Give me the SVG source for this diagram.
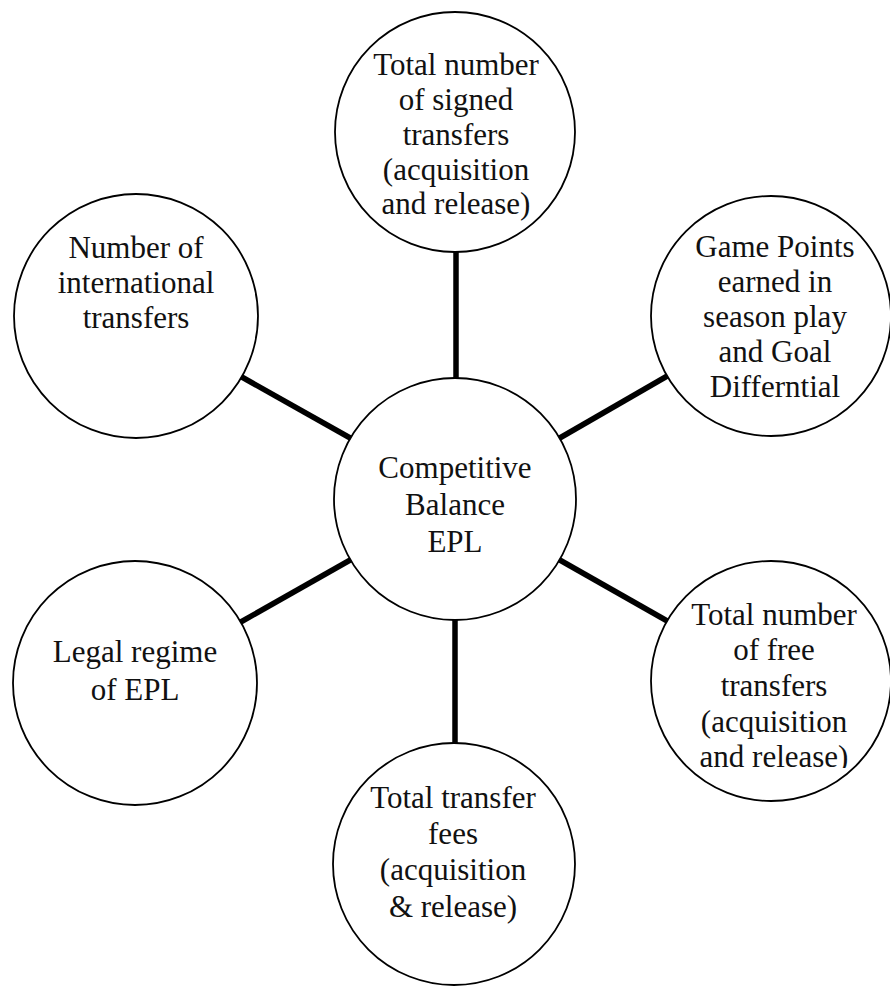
<svg xmlns="http://www.w3.org/2000/svg" width="890" height="987" viewBox="0 0 890 987">
<style>
.node circle{fill:#fff;stroke:#000;stroke-width:1.8}
.node text{font-family:"Liberation Serif","Times New Roman",serif;font-size:31px;fill:#111;text-anchor:middle}
.conn line{stroke:#000;stroke-width:5.5;stroke-linecap:butt}
</style>
<defs>
<clipPath id="clipLR"><rect x="640" y="740" width="250" height="28"/></clipPath>
</defs>
<rect width="890" height="987" fill="#fff"/>
<g id="connectors" class="conn">
<line x1="456" y1="250" x2="456" y2="380"/>
<line x1="240" y1="376" x2="352" y2="439"/>
<line x1="669" y1="375" x2="558" y2="439"/>
<line x1="239" y1="623" x2="352" y2="559"/>
<line x1="669" y1="622" x2="558" y2="559"/>
<line x1="455" y1="618" x2="455" y2="745"/>
</g>
<g id="node-top" class="node">
<circle cx="455" cy="132" r="120"/>
<text x="456" y="75">Total number</text>
<text x="456" y="110">of signed</text>
<text x="456" y="145">transfers</text>
<text x="456" y="180">(acquisition</text>
<text x="456" y="214">and release)</text>
</g>
<g id="node-upper-left" class="node">
<circle cx="136" cy="316" r="122"/>
<text x="136" y="258">Number of</text>
<text x="136" y="293">international</text>
<text x="136" y="328">transfers</text>
</g>
<g id="node-upper-right" class="node">
<circle cx="771" cy="316" r="120"/>
<text x="775" y="257">Game Points</text>
<text x="775" y="292">earned in</text>
<text x="775" y="327">season play</text>
<text x="775" y="362">and Goal</text>
<text x="775" y="397">Differntial</text>
</g>
<g id="node-center" class="node">
<circle cx="455" cy="499" r="121"/>
<text x="455" y="478">Competitive</text>
<text x="455" y="515">Balance</text>
<text x="455" y="552">EPL</text>
</g>
<g id="node-lower-left" class="node">
<circle cx="135" cy="683" r="122"/>
<text x="135" y="662">Legal regime</text>
<text x="135" y="700">of EPL</text>
</g>
<g id="node-lower-right" class="node">
<circle cx="771" cy="681" r="120"/>
<text x="774" y="625">Total number</text>
<text x="774" y="660">of free</text>
<text x="774" y="696">transfers</text>
<text x="774" y="732">(acquisition</text>
<text x="774" y="767" clip-path="url(#clipLR)">and release)</text>
</g>
<g id="node-bottom" class="node">
<circle cx="454" cy="864" r="121"/>
<text x="453" y="808">Total transfer</text>
<text x="453" y="844">fees</text>
<text x="453" y="880">(acquisition</text>
<text x="453" y="917">&amp; release)</text>
</g>
</svg>
